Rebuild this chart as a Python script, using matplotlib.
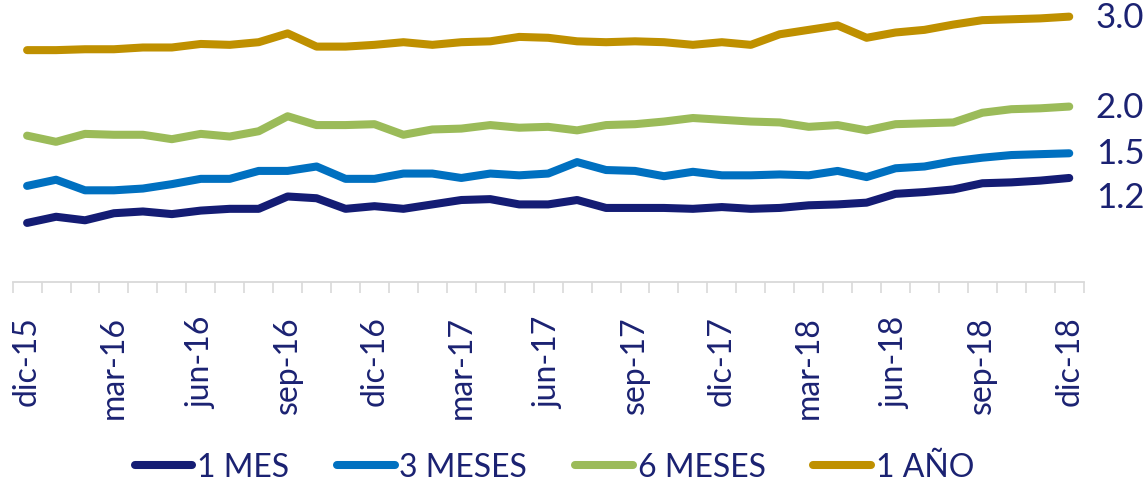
import matplotlib
matplotlib.use('Agg')
import matplotlib.pyplot as plt

plt.rcParams['font.family'] = ['Lato', 'DejaVu Sans']

# monthly dic-15 .. dic-18
meses = ['ene', 'feb', 'mar', 'abr', 'may', 'jun', 'jul', 'ago', 'sep', 'oct', 'nov', 'dic']
fechas = ['dic-15'] + [m + '-' + str(a) for a in (16, 17, 18) for m in meses]

un_mes = [0.67, 0.74, 0.70, 0.78, 0.80, 0.77, 0.81, 0.83, 0.83, 0.97, 0.95, 0.83, 0.86,
          0.83, 0.88, 0.93, 0.94, 0.88, 0.88, 0.93, 0.84, 0.84, 0.84, 0.83, 0.85, 0.83,
          0.84, 0.87, 0.88, 0.90, 1.00, 1.02, 1.05, 1.12, 1.13, 1.15, 1.18]
tres_meses = [1.09, 1.16, 1.04, 1.04, 1.06, 1.11, 1.17, 1.17, 1.26, 1.26, 1.31, 1.17, 1.17,
              1.23, 1.23, 1.18, 1.23, 1.21, 1.23, 1.36, 1.27, 1.26, 1.20, 1.25, 1.21, 1.21,
              1.22, 1.21, 1.26, 1.19, 1.29, 1.31, 1.37, 1.41, 1.44, 1.45, 1.46]
seis_meses = [1.66, 1.59, 1.68, 1.67, 1.67, 1.62, 1.68, 1.65, 1.71, 1.88, 1.78, 1.78, 1.79,
              1.67, 1.73, 1.74, 1.78, 1.75, 1.76, 1.72, 1.78, 1.79, 1.82, 1.86, 1.84, 1.82,
              1.81, 1.76, 1.78, 1.72, 1.79, 1.80, 1.81, 1.92, 1.96, 1.97, 1.99]
un_anio = [2.63, 2.63, 2.64, 2.64, 2.66, 2.66, 2.70, 2.69, 2.72, 2.82, 2.67, 2.67, 2.69,
           2.72, 2.69, 2.72, 2.73, 2.78, 2.77, 2.73, 2.72, 2.73, 2.72, 2.69, 2.72, 2.69,
           2.81, 2.86, 2.91, 2.77, 2.83, 2.86, 2.92, 2.97, 2.98, 2.99, 3.01]

series = [un_mes, tres_meses, seis_meses, un_anio]
nombres = ['1 MES', '3 MESES', '6 MESES', '1 AÑO']
colores = ['#141C74', '#0070C0', '#9BBB59', '#BF9000']
texto = '#1B2272'

fig = plt.figure(figsize=(11.48, 4.85), dpi=100)
ax = fig.add_axes([0.011, 0.4165, 0.933, 0.5835])

x = list(range(len(fechas)))
for s, n, c in zip(series, nombres, colores):
    ax.plot(x, s, color=c, lw=5.8, solid_capstyle='round', label=n)

# end value labels on the right
for s, c in zip(series, colores):
    dy = -14 if s is un_mes else 0
    ax.annotate(f'{s[-1]:.1f}', xy=(x[-1], s[-1]), xytext=(19, dy),
                textcoords='offset points', va='center', ha='left',
                fontsize=25, color=texto, annotation_clip=False)

ax.set_xlim(-0.5, len(fechas) - 0.5)
ax.set_ylim(0, 3.21)

for sp in ['top', 'right', 'left']:
    ax.spines[sp].set_visible(False)
ax.spines['bottom'].set_color('#D9D9D9')
ax.spines['bottom'].set_linewidth(1.3)
ax.set_yticks([])

ax.set_xticks([i - 0.5 for i in range(len(fechas) + 1)], minor=True)
ax.set_xticks(x[::3])
ax.set_xticklabels(fechas[::3], rotation=90, fontsize=23, color=texto)
ax.tick_params(axis='x', which='major', length=0, pad=24)
ax.tick_params(axis='x', which='minor', length=8, width=1.2, color='#D9D9D9')

fig.legend(loc='center', bbox_to_anchor=(0.483, 0.035), ncol=4, frameon=False,
           fontsize=23, handlelength=1.8, handletextpad=0.15, columnspacing=1.5,
           labelcolor=texto, borderaxespad=0, borderpad=0)

fig.savefig('out.png', dpi=100)
